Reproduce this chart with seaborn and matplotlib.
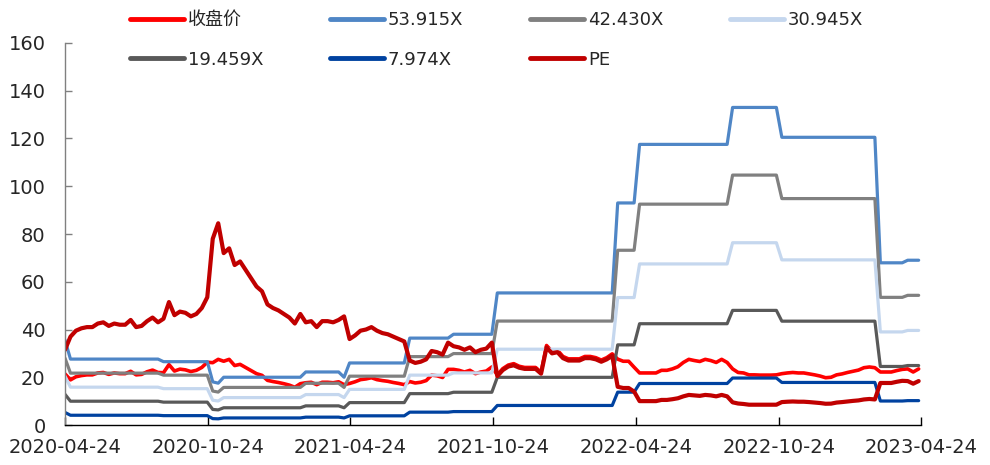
import matplotlib
matplotlib.use("Agg")
import matplotlib.pyplot as plt
import matplotlib.dates as mdates
import numpy as np
import pandas as pd
import seaborn as sns

# ── Data: weekly closes from 2020-04-24 ───────────────────────────────────────
start_date = "2020-04-24"
n_weeks = 157

price = [
    21.4, 18.9, 20.2, 20.7, 21.0, 21.0, 21.8, 22.0, 21.2, 21.8, 21.5, 21.5, 22.5,
    21.0, 21.2, 22.3, 23.0, 22.0, 21.9, 25.3, 22.6, 23.4, 23.1, 22.4, 22.9, 24.1,
    26.3, 26.1, 27.5, 26.7, 27.5, 24.9, 25.4, 24.1, 22.8, 21.5, 20.8, 18.7, 18.2,
    17.8, 17.3, 16.7, 15.8, 17.3, 17.7, 17.9, 16.9, 17.9, 17.9, 17.7, 18.1, 16.9,
    17.4, 18.1, 19.0, 19.3, 19.8, 19.0, 18.6, 18.3, 17.8, 17.4, 16.9, 18.2, 17.6,
    17.9, 18.6, 20.9, 20.6, 19.9, 23.3, 23.3, 22.9, 22.2, 22.9, 21.5, 22.2, 22.6,
    24.3, 21.0, 23.6, 25.1, 25.7, 24.6, 24.1, 24.1, 24.1, 22.1, 33.3, 30.8, 31.3,
    28.7, 27.7, 27.7, 27.7, 28.7, 28.7, 28.2, 27.2, 28.2, 29.8, 27.6, 26.7, 26.7,
    24.2, 21.8, 21.8, 21.8, 21.8, 22.9, 22.9, 23.5, 24.4, 26.2, 27.5, 27.0, 26.6,
    27.5, 27.0, 26.2, 27.5, 26.2, 23.5, 22.0, 21.8, 21.0, 21.0, 20.9, 20.9, 20.9,
    21.0, 21.5, 21.8, 22.0, 21.8, 21.8, 21.4, 21.0, 20.5, 19.8, 20.0, 21.0, 21.4,
    22.0, 22.5, 23.0, 24.0, 24.3, 24.0, 22.2, 22.2, 22.2, 22.8, 23.3, 23.5, 22.2,
    23.5,
]

pe = [
    31.5, 37.0, 39.5, 40.5, 41.0, 41.0, 42.5, 43.0, 41.5, 42.5, 42.0, 42.0, 44.0,
    41.0, 41.5, 43.5, 45.0, 43.0, 44.5, 51.5, 46.0, 47.5, 47.0, 45.5, 46.5, 49.0,
    53.5, 78.0, 84.5, 72.0, 74.0, 67.0, 68.5, 65.0, 61.5, 58.0, 56.0, 50.5, 49.0,
    48.0, 46.5, 45.0, 42.5, 46.5, 43.0, 43.5, 41.0, 43.5, 43.5, 43.0, 44.0, 45.5,
    36.0, 37.5, 39.5, 40.0, 41.0, 39.5, 38.5, 38.0, 37.0, 36.0, 35.0, 27.0, 26.0,
    26.5, 27.5, 31.0, 30.5, 29.5, 34.5, 33.0, 32.5, 31.5, 32.5, 30.5, 31.5, 32.0,
    34.5, 20.5, 23.0, 24.5, 25.0, 24.0, 23.5, 23.5, 23.5, 21.5, 32.5, 30.0, 30.5,
    28.0, 27.0, 27.0, 27.0, 28.0, 28.0, 27.5, 26.5, 27.5, 29.0, 16.0, 15.5, 15.5,
    14.0, 10.0, 10.0, 10.0, 10.0, 10.5, 10.5, 10.8, 11.2, 12.0, 12.6, 12.4, 12.2,
    12.6, 12.4, 12.0, 12.6, 12.0, 9.5, 9.0, 8.8, 8.5, 8.5, 8.5, 8.5, 8.5,
    8.5, 9.6, 9.75, 9.85, 9.75, 9.75, 9.6, 9.4, 9.2, 8.9, 8.95, 9.4, 9.6,
    9.85, 10.1, 10.3, 10.7, 10.9, 10.7, 17.6, 17.6, 17.6, 18.1, 18.5, 18.4, 17.3,
    18.4,
]

# EPS used for the PE bands: (first week index, value), constant until next change
eps_start = [0, 1, 18, 27, 28, 29, 44, 51, 52, 63, 71, 79, 101, 105, 122, 131, 149, 154]
eps_value = [0.66, 0.512, 0.492, 0.335, 0.325, 0.371, 0.412, 0.371, 0.482, 0.675,
             0.705, 1.026, 1.725, 2.18, 2.467, 2.235, 1.26, 1.28]

band_labels = ["53.915X", "42.430X", "30.945X", "19.459X", "7.974X"]
band_multiples = [53.915, 42.430, 30.945, 19.459, 7.974]

tick_dates = ["2020-04-24", "2020-10-24", "2021-04-24", "2021-10-24",
              "2022-04-24", "2022-10-24", "2023-04-24"]

# ── Build series ─────────────────────────────────────────────────────────────
dates = pd.date_range(start_date, periods=n_weeks, freq="7D")
eps = np.repeat(eps_value, np.diff(eps_start + [n_weeks]))

series = [("收盘价", np.array(price), "#FF0000", 2.6)]
band_colors = ["#4F86C6", "#808080", "#C5D7EE", "#595959", "#0042A0"]
for lab, mult, col in zip(band_labels, band_multiples, band_colors):
    series.append((lab, mult * eps, col, 2.3))
series.append(("PE", np.array(pe), "#C00000", 3.0))

# ── Plot ─────────────────────────────────────────────────────────────────────
sns.set_style("ticks")
plt.rcParams["font.family"] = ["DejaVu Sans", "Noto Sans CJK SC"]

fig = plt.figure(figsize=(9.9, 4.65), dpi=100)
ax = fig.add_axes([65 / 990, 40 / 465, 856 / 990, 382 / 465])

for lab, vals, col, lw in series:
    sns.lineplot(x=dates, y=vals, color=col, linewidth=lw, label=lab, ax=ax,
                 legend=False)

ax.set_ylim(0, 160)
ax.set_yticks(range(0, 161, 20))
ax.set_xlim(pd.Timestamp(tick_dates[0]), pd.Timestamp(tick_dates[-1]))
ax.set_xticks([pd.Timestamp(d) for d in tick_dates])
ax.xaxis.set_major_formatter(mdates.DateFormatter("%Y-%m-%d"))
ax.set_xlabel("")
ax.set_ylabel("")

ax.tick_params(axis="y", direction="in", length=5, width=1, color="#808080",
               pad=14, labelsize=14)
ax.tick_params(axis="x", direction="in", length=6, width=1, color="black",
               pad=9, labelsize=14)
for s in ("top", "right"):
    ax.spines[s].set_visible(False)
ax.spines["left"].set_color("#808080")
ax.spines["bottom"].set_color("black")
ax.spines["left"].set_linewidth(1)
ax.spines["bottom"].set_linewidth(1)

# legend: row-major order in a 4-column grid
lines = ax.get_lines()
order = [0, 4, 1, 5, 2, 6, 3]
handles = [lines[i] for i in order]
labels = [series[i][0] for i in order]
leg = fig.legend(handles, labels, ncol=4, loc="upper left",
                 bbox_to_anchor=(130 / 990, 1 - 11 / 465), frameon=False,
                 fontsize=13, handlelength=3.0, handletextpad=0.2,
                 columnspacing=3.7, labelspacing=1.2, borderpad=0,
                 borderaxespad=0)
for h in leg.get_lines():
    h.set_linewidth(3.5)

fig.savefig("out.png", dpi=100)
plt.close(fig)
